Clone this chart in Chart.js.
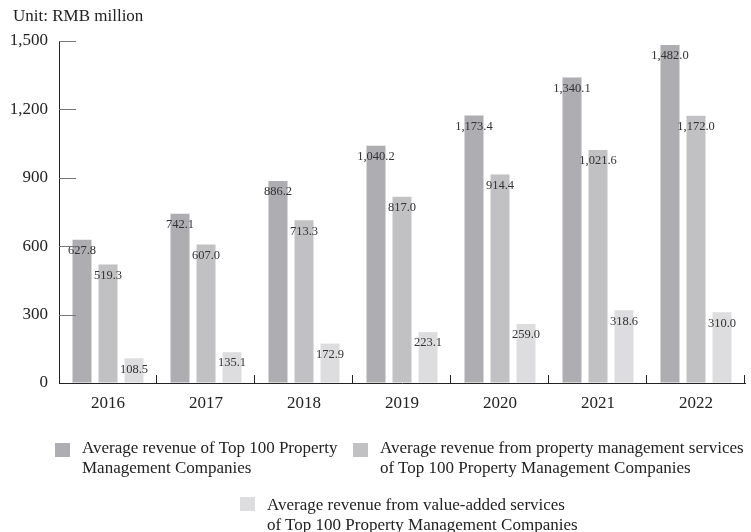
<!DOCTYPE html>
<html>
<head>
<meta charset="utf-8">
<script src="https://cdn.jsdelivr.net/npm/chart.js@4"></script>
<style>
    html, body { margin: 0; padding: 0; background: #fff; }
    #wrap { position: relative; width: 751px; height: 532px; font-family: "Liberation Serif", "Times New Roman", serif; color: #222; }
    #chart { position: absolute; left: 0; top: 0; }
    #unit { position: absolute; left: 13px; top: 6px; font-size: 17px; line-height: 20px; }
    .leg { position: absolute; font-size: 17px; line-height: 20px; white-space: nowrap; }
    .sw { position: absolute; width: 15px; height: 14px; }
</style>
</head>
<body>
<div id="wrap">
    <canvas id="chart" width="751" height="532"></canvas>
    <div id="unit">Unit: RMB million</div>
    <div id="legend"></div>
</div>
<script>
const years = ["2016", "2017", "2018", "2019", "2020", "2021", "2022"];
const totalRevenue = [627.8, 742.1, 886.2, 1040.2, 1173.4, 1340.1, 1482.0];
const propertyMgmtRevenue = [519.3, 607.0, 713.3, 817.0, 914.4, 1021.6, 1172.0];
const valueAddedRevenue = [108.5, 135.1, 172.9, 223.1, 259.0, 318.6, 310.0];
const seriesNames = [
    ["Average revenue of Top 100 Property", "Management Companies"],
    ["Average revenue from property management services", "of Top 100 Property Management Companies"],
    ["Average revenue from value-added services", "of Top 100 Property Management Companies"],
];
const seriesColors = ["#adadb2", "#c1c1c3", "#dddde0"];
const yTicks = [0, 300, 600, 900, 1200, 1500];

const FONT = "'Liberation Serif', 'Times New Roman', serif";

function fmt(v, digits) {
    return v.toLocaleString("en-US", { minimumFractionDigits: digits, maximumFractionDigits: digits });
}

// short inward tick marks on both axes
const axisMarks = {
    id: "axisMarks",
    afterDraw(chart) {
        const { ctx, chartArea, scales } = chart;
        ctx.save();
        ctx.lineWidth = 1;
        ctx.strokeStyle = "#777";
        for (const t of yTicks) {
            if (t === 0) continue;
            const y = Math.round(scales.y.getPixelForValue(t)) + 0.5;
            ctx.beginPath();
            ctx.moveTo(chartArea.left, y);
            ctx.lineTo(chartArea.left + 17, y);
            ctx.stroke();
        }
        ctx.strokeStyle = "#222";
        const step = (chartArea.right - chartArea.left) / years.length;
        for (let i = 1; i <= years.length; i++) {
            const x = Math.round(scales.x.getPixelForValue(i - 1) + step / 2) - 0.5;
            ctx.beginPath();
            ctx.moveTo(x, chartArea.bottom);
            ctx.lineTo(x, chartArea.bottom - 8);
            ctx.stroke();
        }
        ctx.restore();
    },
};

// value labels just under the top of each bar
const barValues = {
    id: "barValues",
    afterDatasetsDraw(chart) {
        const { ctx } = chart;
        ctx.save();
        ctx.font = "12.5px " + FONT;
        ctx.fillStyle = "#333";
        ctx.textAlign = "center";
        ctx.textBaseline = "middle";
        chart.data.datasets.forEach((ds, di) => {
            chart.getDatasetMeta(di).data.forEach((bar, i) => {
                ctx.fillText(fmt(ds.data[i], 1), bar.x, bar.y + 11);
            });
        });
        ctx.restore();
    },
};

function buildLegend() {
    const spots = [
        { sx: 55, sy: 443, tx: 82, ty: 438 },
        { sx: 353, sy: 443, tx: 380, ty: 438 },
        { sx: 240, sy: 497, tx: 267, ty: 495 },
    ];
    const box = document.getElementById("legend");
    seriesNames.forEach((lines, i) => {
        const p = spots[i];
        const sw = document.createElement("div");
        sw.className = "sw";
        sw.style.left = p.sx + "px";
        sw.style.top = p.sy + "px";
        sw.style.background = seriesColors[i];
        box.appendChild(sw);
        const txt = document.createElement("div");
        txt.className = "leg";
        txt.style.left = p.tx + "px";
        txt.style.top = p.ty + "px";
        txt.innerHTML = lines.join("<br>");
        box.appendChild(txt);
    });
}

function initChart() {
    const ctx = document.getElementById("chart").getContext("2d");
    new Chart(ctx, {
        type: "bar",
        data: {
            labels: years,
            datasets: [totalRevenue, propertyMgmtRevenue, valueAddedRevenue].map((d, i) => ({
                label: seriesNames[i].join(" "),
                data: d,
                backgroundColor: seriesColors[i],
                borderWidth: 0,
                categoryPercentage: 0.796,
                barPercentage: 0.731,
            })),
        },
        options: {
            responsive: false,
            animation: false,
            layout: { padding: { top: 41, right: 6, bottom: 109, left: 0 } },
            plugins: {
                legend: { display: false },
                tooltip: { enabled: false },
            },
            scales: {
                x: {
                    grid: { drawOnChartArea: false, drawTicks: false },
                    border: { color: "#222", width: 1 },
                    ticks: { font: { family: FONT, size: 17 }, color: "#222", padding: 10 },
                    afterFit(scale) { scale.height = 40; },
                },
                y: {
                    min: 0,
                    max: 1500,
                    grid: { drawOnChartArea: false, drawTicks: false },
                    border: { color: "#222", width: 1 },
                    afterBuildTicks(scale) { scale.ticks = yTicks.map((v) => ({ value: v })); },
                    ticks: {
                        font: { family: FONT, size: 17 },
                        color: "#222",
                        padding: 11,
                        callback: (v) => fmt(v, 0),
                    },
                    afterFit(scale) { scale.width = 59; },
                },
            },
        },
        plugins: [axisMarks, barValues],
    });
}

document.addEventListener("DOMContentLoaded", () => {
    buildLegend();
    initChart();
});
</script>
</body>
</html>
